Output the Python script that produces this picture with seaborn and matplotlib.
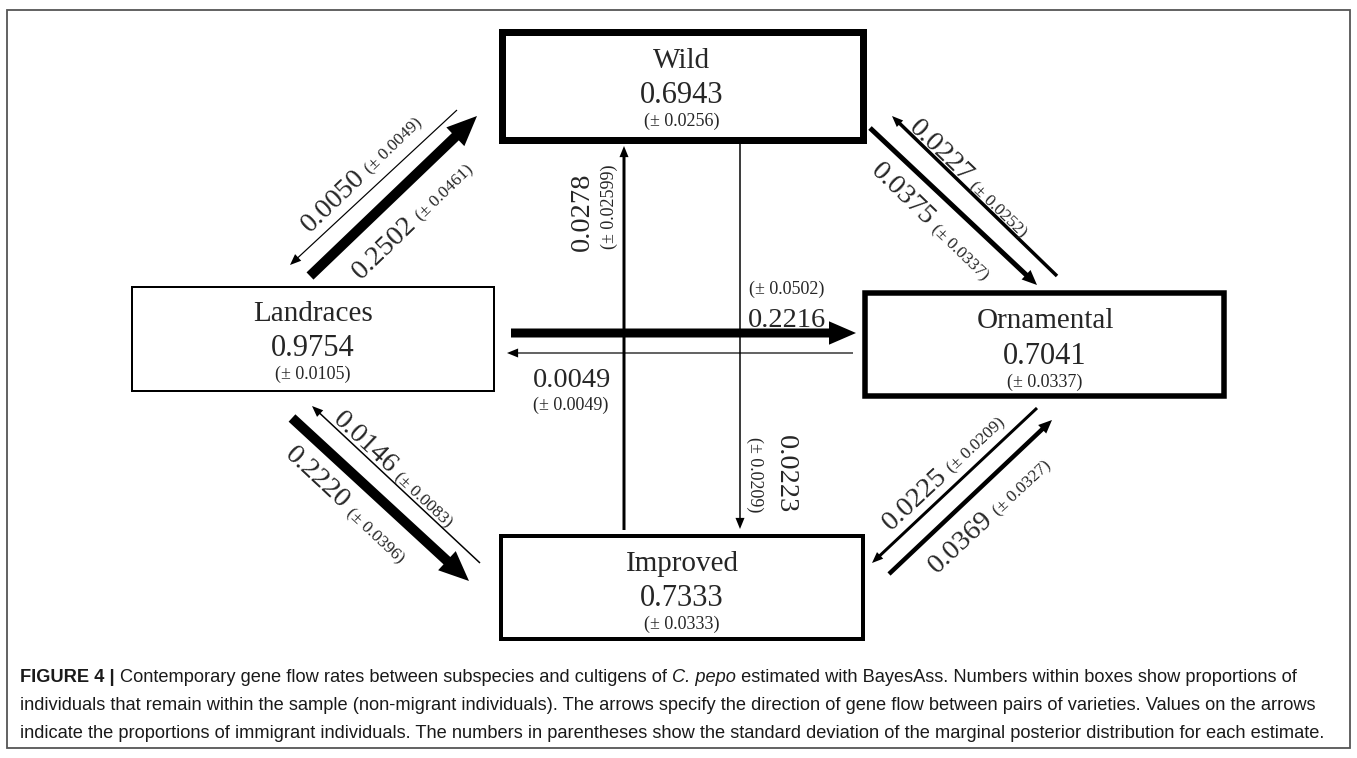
import matplotlib
matplotlib.use("Agg")
import matplotlib.pyplot as plt
from matplotlib.patches import Rectangle, FancyArrowPatch
from matplotlib import font_manager
import numpy as np
import seaborn as sns

# ---- data -------------------------------------------------------------
groups = ["Wild", "Landraces", "Ornamental", "Improved"]
retention = [0.6943, 0.9754, 0.7041, 0.7333]
retention_sd = [0.0256, 0.0105, 0.0337, 0.0333]

flow_source = ["Landraces", "Wild", "Wild", "Ornamental", "Landraces", "Ornamental",
               "Improved", "Wild", "Landraces", "Improved", "Ornamental", "Improved"]
flow_target = ["Wild", "Landraces", "Ornamental", "Wild", "Ornamental", "Landraces",
               "Wild", "Improved", "Improved", "Landraces", "Improved", "Ornamental"]
flow_rate = [0.2502, 0.0050, 0.0375, 0.0227, 0.2216, 0.0049,
             0.0278, 0.0223, 0.2220, 0.0146, 0.0225, 0.0369]
flow_sd = [0.0461, 0.0049, 0.0337, 0.0252, 0.0502, 0.0049,
           0.02599, 0.0209, 0.0396, 0.0083, 0.0209, 0.0327]

caption_lines = [
    [("FIGURE 4 | ", "bold", "normal"),
     ("Contemporary gene flow rates between subspecies and cultigens of ", "normal", "normal"),
     ("C. pepo", "normal", "italic"),
     (" estimated with BayesAss. Numbers within boxes show proportions of", "normal", "normal")],
    [("individuals that remain within the sample (non-migrant individuals). The arrows specify "
      "the direction of gene flow between pairs of varieties. Values on the arrows", "normal", "normal")],
    [("indicate the proportions of immigrant individuals. The numbers in parentheses show the "
      "standard deviation of the marginal posterior distribution for each estimate.", "normal", "normal")],
]

# ---- layout (pixel coordinates, y downwards) --------------------------
W, H = 1357, 758
box_extent = {"Wild": (498, 28, 866, 143), "Landraces": (131, 286, 495, 392),
              "Ornamental": (862, 290, 1227, 399), "Improved": (499, 534, 865, 641)}
box_edge_px = {"Wild": 7, "Landraces": 2, "Ornamental": 5.5, "Improved": 4}
box_text_x = {"Wild": 682, "Landraces": 313, "Ornamental": 1045, "Improved": 682}

arrow_geom = {
    ("Landraces", "Wild"): ((310, 276), (477, 116), 10),
    ("Wild", "Landraces"): ((457, 110), (290, 265), 1.2),
    ("Wild", "Ornamental"): ((870, 128), (1037, 285), 5),
    ("Ornamental", "Wild"): ((1057, 276), (892, 116), 3.5),
    ("Landraces", "Ornamental"): ((511, 333), (856, 333), 9),
    ("Ornamental", "Landraces"): ((853, 353), (507, 353), 1.2),
    ("Improved", "Wild"): ((624, 530), (624, 146), 3),
    ("Wild", "Improved"): ((740, 143), (740, 529), 1.5),
    ("Landraces", "Improved"): ((292, 418), (469, 581), 10),
    ("Improved", "Landraces"): ((480, 563), (312, 406), 1.5),
    ("Ornamental", "Improved"): ((1037, 408), (872, 563), 3),
    ("Improved", "Ornamental"): ((889, 574), (1052, 420), 4.5),
}

# diagonal labels: (visual centre, rotation)
diag_label = {
    ("Landraces", "Wild"): ((411, 218), 44),
    ("Wild", "Landraces"): ((360, 172), 44),
    ("Wild", "Ornamental"): ((933, 220), -44),
    ("Ornamental", "Wild"): ((971, 177), -44),
    ("Landraces", "Improved"): ((348, 503), -43),
    ("Improved", "Landraces"): ((396, 468), -43),
    ("Ornamental", "Improved"): ((942, 470), 43),
    ("Improved", "Ornamental"): ((988, 513), 43),
}
# stacked labels: (number position, sd position, rotation, ha, va)
stack_label = {
    ("Improved", "Wild"): ((582, 212), (609, 207), 90, "center", "center"),
    ("Wild", "Improved"): ((785, 474), (755, 475), -90, "center", "center"),
    ("Landraces", "Ornamental"): ((748, 327), (749, 294), 0, "left", "baseline"),
    ("Ornamental", "Landraces"): ((533, 387), (533, 410), 0, "left", "baseline"),
}

# ---- style ------------------------------------------------------------
sns.set_theme(style="white")
serif = ["Liberation Serif", "DejaVu Serif"]
plt.rcParams["font.family"] = serif
installed = {f.name for f in font_manager.fontManager.ttflist}
cap_family = ["Liberation Sans Narrow"] if "Liberation Sans Narrow" in installed else ["Liberation Sans"]

PX = 72.0 / 100.0  # points per pixel at 100 dpi

fig = plt.figure(figsize=(W / 100, H / 100), dpi=100)
ax = fig.add_axes([0, 0, 1, 1])
ax.set_xlim(0, W)
ax.set_ylim(H, 0)
ax.axis("off")
renderer = fig.canvas.get_renderer()


def fmt(v):
    return f"{v:.4f}" if abs(round(v, 4) - v) < 1e-12 else f"{v:.5f}"


def text_width(s, **kw):
    t = ax.text(0, 0, "a" + s + "a", **kw)
    r = ax.text(0, 0, "aa", **kw)
    w = t.get_window_extent(renderer).width - r.get_window_extent(renderer).width
    t.remove()
    r.remove()
    return w


# outer frame
ax.add_patch(Rectangle((7, 10), 1343, 738, fill=False, edgecolor="#555555", lw=1.3))

# boxes
for name, val, sd in zip(groups, retention, retention_sd):
    x0, y0, x1, y1 = box_extent[name]
    e = box_edge_px[name]
    ax.add_patch(Rectangle((x0 + e / 2, y0 + e / 2), x1 - x0 - e, y1 - y0 - e,
                           fill=False, edgecolor="black", lw=e * PX, joinstyle="miter"))
    cx = box_text_x[name]
    top = y0 + (e - 4)
    ax.text(cx, top + 37, name, ha="center", va="baseline", fontsize=21)
    ax.text(cx, top + 72, fmt(val), ha="center", va="baseline", fontsize=22)
    ax.text(cx, top + 95, f"(\u00b1 {fmt(sd)})", ha="center", va="baseline", fontsize=13)

NUM_FS, SD_FS = 20.5, 12.5

# arrows and their labels
for src, tgt, rate, sd in zip(flow_source, flow_target, flow_rate, flow_sd):
    tail, head, wpx = arrow_geom[(src, tgt)]
    tw = wpx * PX
    hw = max(6.5, 2.6 * tw)
    hl = max(8.0, 3.0 * tw)
    ax.add_patch(FancyArrowPatch(
        posA=tail, posB=head, mutation_scale=1, color="black", lw=0,
        shrinkA=0, shrinkB=0,
        arrowstyle=f"simple,head_length={hl},head_width={hw},tail_width={tw}"))

    num = fmt(rate)
    sdt = f"(\u00b1 {fmt(sd)})"
    if (src, tgt) in diag_label:
        (cx, cy), ang = diag_label[(src, tgt)]
        a = np.deg2rad(ang)
        u = np.array([np.cos(a), -np.sin(a)])
        n = np.array([np.sin(a), np.cos(a)])
        w1 = text_width(num, fontsize=NUM_FS)
        w2 = text_width(sdt, fontsize=SD_FS)
        gap = 6
        total = w1 + gap + w2
        base = np.array([cx, cy]) + n * 9.5 - u * total / 2
        ax.text(*base, num, fontsize=NUM_FS, rotation=ang, rotation_mode="anchor",
                ha="left", va="baseline")
        p2 = base + u * (w1 + gap)
        ax.text(*p2, sdt, fontsize=SD_FS, rotation=ang, rotation_mode="anchor",
                ha="left", va="baseline")
    else:
        pn, ps, ang, ha, va = stack_label[(src, tgt)]
        ax.text(*pn, num, fontsize=NUM_FS, rotation=ang, rotation_mode="anchor", ha=ha, va=va)
        ax.text(*ps, sdt, fontsize=SD_FS + 0.5, rotation=ang, rotation_mode="anchor", ha=ha, va=va)

# caption, sized so the longest line spans the frame
cap_fs = 12.0
target = 1310.0


def line_width(pieces, fs):
    return sum(text_width(s, fontsize=fs, family=cap_family, fontweight=wt, fontstyle=st)
               for s, wt, st in pieces)


cap_fs *= target / line_width(caption_lines[2], cap_fs)
for i, pieces in enumerate(caption_lines):
    x = 20.0
    y = 682 + 28 * i
    for s, wt, st in pieces:
        ax.text(x, y, s, fontsize=cap_fs, family=cap_family, fontweight=wt, fontstyle=st,
                ha="left", va="baseline", color="#1a1a1a")
        x += text_width(s, fontsize=cap_fs, family=cap_family, fontweight=wt, fontstyle=st)

fig.savefig("out.png", dpi=100)
